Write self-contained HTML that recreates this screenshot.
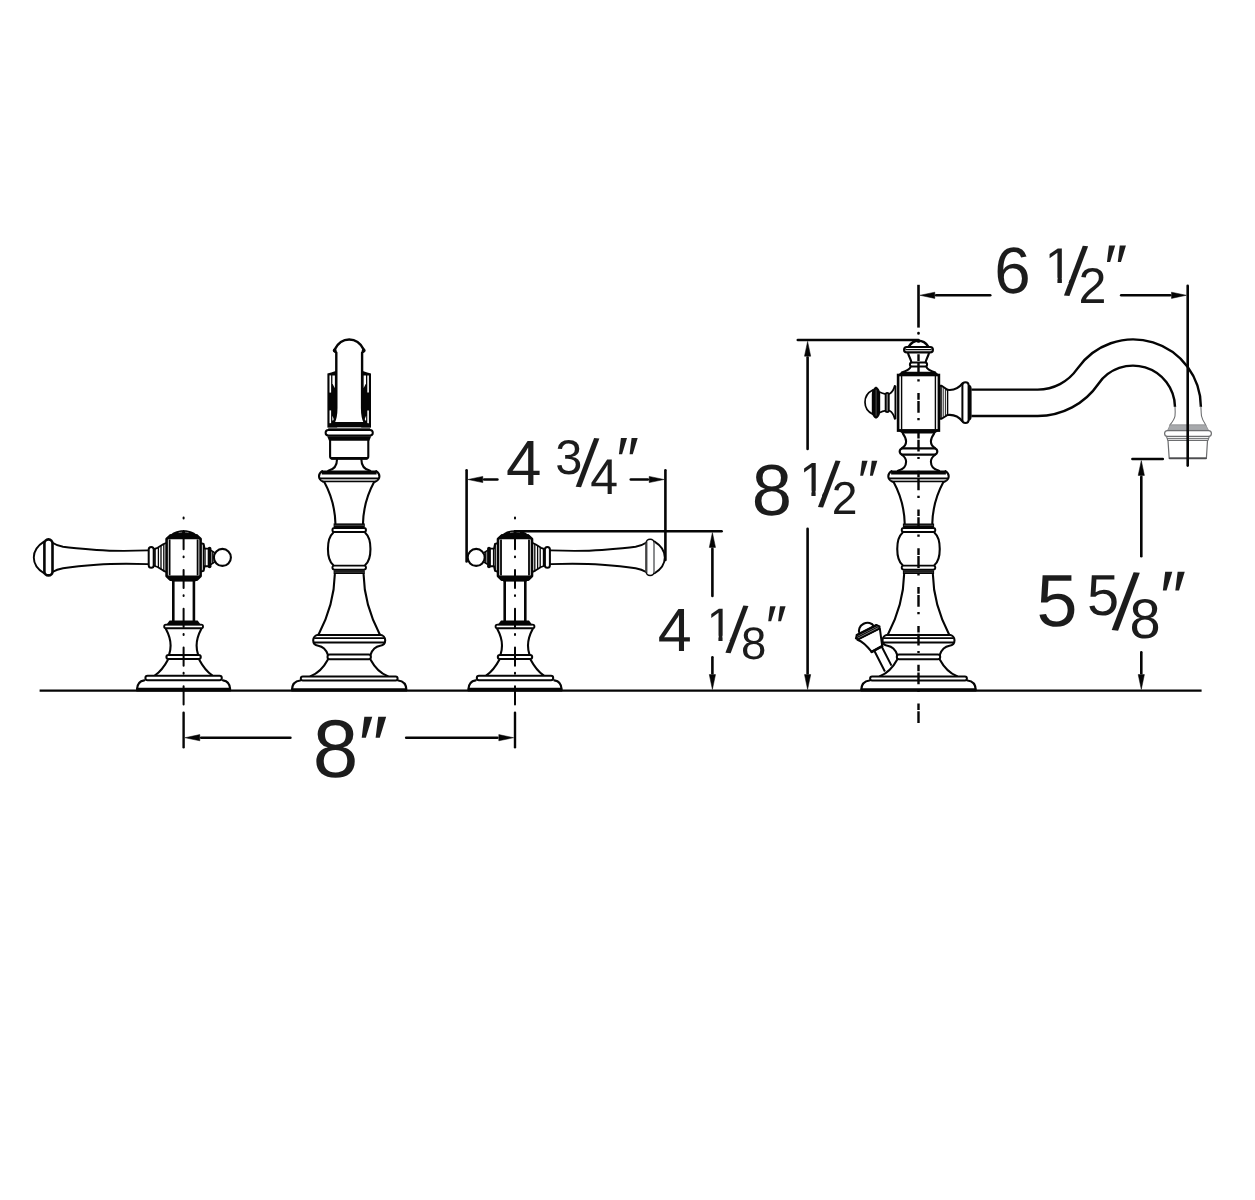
<!DOCTYPE html>
<html lang="en">
<head>
<meta charset="utf-8">
<title>Widespread faucet - dimensions</title>
<style>
html,body{margin:0;padding:0;background:#fff;}
body{width:1255px;height:1200px;overflow:hidden;}
svg{display:block;will-change:transform;}
text{font-family:"Liberation Sans",sans-serif;fill:#1c1c1c;text-rendering:geometricPrecision;}
</style>
</head>
<body>
<svg width="1255" height="1200" viewBox="0 0 1255 1200" role="img" aria-label="Faucet dimension drawing">
<rect width="1255" height="1200" fill="#fff"/>
<!-- ground line -->
<line x1="39.6" y1="690.7" x2="1201.6" y2="690.7" stroke="#050505" stroke-width="2.2" stroke-linecap="butt"/>
<!-- handle -->
<path d="M199.4,660C202.6,666 206.6,671.5 212.2,675.4M167.8,660C164.6,666 160.6,671.5 155,675.4" fill="none" stroke="#050505" stroke-width="2.1" stroke-linecap="round" stroke-linejoin="round"/>
<rect x="145.4" y="675.8" width="76.4" height="4.4" rx="2.2" fill="#fff" stroke="#050505" stroke-width="2"/>
<path d="M223,680.4C227.1,681 230,684 230.2,689.4M144.2,680.4C140.1,681 137.2,684 137,689.4" fill="none" stroke="#050505" stroke-width="2.1" stroke-linecap="round" stroke-linejoin="round"/>
<path d="M136.4,687.8L230.8,687.8L230.8,691.4L136.4,691.4Z" fill="#050505"/>
<rect x="166.4" y="654.9" width="34.4" height="4.1" rx="2.05" fill="#fff" stroke="#050505" stroke-width="2"/>
<path d="M201.4,628.8C198.6,634 196.6,639.5 196.6,645.5C196.6,649 197.2,652 198,654.4M165.8,628.8C168.6,634 170.6,639.5 170.6,645.5C170.6,649 170,652 169.2,654.4" fill="none" stroke="#050505" stroke-width="2.1" stroke-linecap="round" stroke-linejoin="round"/>
<rect x="164.2" y="624.6" width="38.8" height="3.6" rx="1.8" fill="#fff" stroke="#050505" stroke-width="1.9"/>
<path d="M169.6,620.4L197.6,620.4L201.2,625.2L166,625.2Z" fill="#050505"/>
<path d="M193.9,581L193.9,621M173.3,581L173.3,621" fill="none" stroke="#050505" stroke-width="2.6" stroke-linecap="butt" stroke-linejoin="round"/>
<path d="M171.8,579L195.4,579L195.4,581.6L171.8,581.6Z" fill="#050505"/>
<path d="M170.2,535.6L197,535.6L200.6,539L200.6,576L197,579.6L170.2,579.6L166.6,576L166.6,539Z" fill="#fff" stroke="#050505" stroke-width="2.6" stroke-linecap="round" stroke-linejoin="round"/>
<path d="M169.8,534.4L197.4,534.4L200.6,539.2L166.6,539.2Z" fill="#050505"/>
<path d="M166.6,575.4L200.6,575.4L197.4,579.6L169.8,579.6Z" fill="#050505"/>
<path d="M169.2,536.4C171.6,532.6 176.6,530.2 183.6,530.2C190.6,530.2 195.6,532.6 198,536.4Z" fill="#050505"/>
<path d="M178.6,532.6L182.2,532.2M185,532.2L188.6,532.6" fill="none" stroke="#777" stroke-width="0.9" stroke-linecap="butt" stroke-linejoin="round"/>
<line x1="197.6" y1="539.4" x2="197.6" y2="575.4" stroke="#050505" stroke-width="1.8" stroke-linecap="butt"/>
<line x1="169.6" y1="539.4" x2="169.6" y2="575.4" stroke="#050505" stroke-width="1.8" stroke-linecap="butt"/>
<circle cx="222.4" cy="557.4" r="8.5" fill="#fff" stroke="#050505" stroke-width="2.1"/>
<rect x="207.7" y="546.8" width="3.8" height="21.4" rx="1.9" fill="#050505" stroke="none" stroke-width="0"/>
<path d="M208,548.6L204.6,548.6L203.6,544L201.8,543.4M208,566.2L204.6,566.2L203.6,570.8L201.8,571.4" fill="none" stroke="#050505" stroke-width="1.9" stroke-linecap="round" stroke-linejoin="round"/>
<line x1="203.4" y1="544" x2="203.4" y2="570.8" stroke="#050505" stroke-width="1.4" stroke-linecap="butt"/>
<line x1="205" y1="548.4" x2="205" y2="566.4" stroke="#050505" stroke-width="1.4" stroke-linecap="butt"/>
<path d="M211.4,550.6L214.2,552.4M211.4,564.2L214.2,562.4" fill="none" stroke="#050505" stroke-width="1.6" stroke-linecap="round" stroke-linejoin="round"/>
<line x1="212.8" y1="551.6" x2="212.8" y2="563.2" stroke="#050505" stroke-width="1.4" stroke-linecap="butt"/>
<path d="M165.4,543.2L163.2,544.2L157.6,547.8L154.6,548.8M165.4,571.6L163.2,570.6L157.6,567L154.6,566" fill="none" stroke="#050505" stroke-width="1.8" stroke-linecap="round" stroke-linejoin="round"/>
<line x1="163.8" y1="544" x2="163.8" y2="570.8" stroke="#050505" stroke-width="1.3" stroke-linecap="butt"/>
<line x1="161" y1="545.6" x2="161" y2="569.2" stroke="#050505" stroke-width="1.3" stroke-linecap="butt"/>
<line x1="158.4" y1="547.4" x2="158.4" y2="567.4" stroke="#050505" stroke-width="1.3" stroke-linecap="butt"/>
<line x1="155" y1="548.8" x2="155" y2="566" stroke="#050505" stroke-width="1.6" stroke-linecap="butt"/>
<rect x="148.7" y="547" width="5" height="20.8" rx="2.5" fill="#fff" stroke="#050505" stroke-width="2"/>
<path d="M148.2,550.4C133.6,550.9 113.6,551.2 96.6,550C83.6,549 71.6,548 63,546.8C58.6,546 55.6,544.8 53,543M148.2,564.1C133.6,563.6 113.6,563.4 96.6,564.7C83.6,565.7 71.6,567 63,568.2C58.6,569 55.6,570 53,571.8" fill="none" stroke="#050505" stroke-width="1.9" stroke-linecap="round" stroke-linejoin="round"/>
<path d="M44,541.6C37.6,545.6 33.8,551 33.8,557.4C33.8,563.8 37.6,569.2 44,573.2" fill="none" stroke="#050505" stroke-width="1.9" stroke-linecap="round" stroke-linejoin="round"/>
<rect x="44.4" y="539.4" width="8.1" height="36" rx="4" fill="#fff" stroke="#050505" stroke-width="2.6"/>
<!-- handle -->
<path d="M530.8,660C534,666 538,671.5 543.6,675.4M499.2,660C496,666 492,671.5 486.4,675.4" fill="none" stroke="#050505" stroke-width="2.1" stroke-linecap="round" stroke-linejoin="round"/>
<rect x="476.8" y="675.8" width="76.4" height="4.4" rx="2.2" fill="#fff" stroke="#050505" stroke-width="2"/>
<path d="M554.4,680.4C558.5,681 561.4,684 561.6,689.4M475.6,680.4C471.5,681 468.6,684 468.4,689.4" fill="none" stroke="#050505" stroke-width="2.1" stroke-linecap="round" stroke-linejoin="round"/>
<path d="M467.8,687.8L562.2,687.8L562.2,691.4L467.8,691.4Z" fill="#050505"/>
<rect x="497.8" y="654.9" width="34.4" height="4.1" rx="2.05" fill="#fff" stroke="#050505" stroke-width="2"/>
<path d="M532.8,628.8C530,634 528,639.5 528,645.5C528,649 528.6,652 529.4,654.4M497.2,628.8C500,634 502,639.5 502,645.5C502,649 501.4,652 500.6,654.4" fill="none" stroke="#050505" stroke-width="2.1" stroke-linecap="round" stroke-linejoin="round"/>
<rect x="495.6" y="624.6" width="38.8" height="3.6" rx="1.8" fill="#fff" stroke="#050505" stroke-width="1.9"/>
<path d="M501,620.4L529,620.4L532.6,625.2L497.4,625.2Z" fill="#050505"/>
<path d="M525.3,581L525.3,621M504.7,581L504.7,621" fill="none" stroke="#050505" stroke-width="2.6" stroke-linecap="butt" stroke-linejoin="round"/>
<path d="M503.2,579L526.8,579L526.8,581.6L503.2,581.6Z" fill="#050505"/>
<path d="M501.6,535.6L528.4,535.6L532,539L532,576L528.4,579.6L501.6,579.6L498,576L498,539Z" fill="#fff" stroke="#050505" stroke-width="2.6" stroke-linecap="round" stroke-linejoin="round"/>
<path d="M501.2,534.4L528.8,534.4L532,539.2L498,539.2Z" fill="#050505"/>
<path d="M498,575.4L532,575.4L528.8,579.6L501.2,579.6Z" fill="#050505"/>
<path d="M500.6,536.4C503,532.6 508,530.2 515,530.2C522,530.2 527,532.6 529.4,536.4Z" fill="#050505"/>
<path d="M510,532.6L513.6,532.2M516.4,532.2L520,532.6" fill="none" stroke="#777" stroke-width="0.9" stroke-linecap="butt" stroke-linejoin="round"/>
<line x1="529" y1="539.4" x2="529" y2="575.4" stroke="#050505" stroke-width="1.8" stroke-linecap="butt"/>
<line x1="501" y1="539.4" x2="501" y2="575.4" stroke="#050505" stroke-width="1.8" stroke-linecap="butt"/>
<circle cx="476.2" cy="557.4" r="8.5" fill="#fff" stroke="#050505" stroke-width="2.1"/>
<rect x="487.1" y="546.8" width="3.8" height="21.4" rx="1.9" fill="#050505" stroke="none" stroke-width="0"/>
<path d="M490.6,548.6L494,548.6L495,544L496.8,543.4M490.6,566.2L494,566.2L495,570.8L496.8,571.4" fill="none" stroke="#050505" stroke-width="1.9" stroke-linecap="round" stroke-linejoin="round"/>
<line x1="495.2" y1="544" x2="495.2" y2="570.8" stroke="#050505" stroke-width="1.4" stroke-linecap="butt"/>
<line x1="493.6" y1="548.4" x2="493.6" y2="566.4" stroke="#050505" stroke-width="1.4" stroke-linecap="butt"/>
<path d="M487.2,550.6L484.4,552.4M487.2,564.2L484.4,562.4" fill="none" stroke="#050505" stroke-width="1.6" stroke-linecap="round" stroke-linejoin="round"/>
<line x1="485.8" y1="551.6" x2="485.8" y2="563.2" stroke="#050505" stroke-width="1.4" stroke-linecap="butt"/>
<path d="M533.2,543.2L535.4,544.2L541,547.8L544,548.8M533.2,571.6L535.4,570.6L541,567L544,566" fill="none" stroke="#050505" stroke-width="1.8" stroke-linecap="round" stroke-linejoin="round"/>
<line x1="534.8" y1="544" x2="534.8" y2="570.8" stroke="#050505" stroke-width="1.3" stroke-linecap="butt"/>
<line x1="537.6" y1="545.6" x2="537.6" y2="569.2" stroke="#050505" stroke-width="1.3" stroke-linecap="butt"/>
<line x1="540.2" y1="547.4" x2="540.2" y2="567.4" stroke="#050505" stroke-width="1.3" stroke-linecap="butt"/>
<line x1="543.6" y1="548.8" x2="543.6" y2="566" stroke="#050505" stroke-width="1.6" stroke-linecap="butt"/>
<rect x="544.9" y="547" width="5" height="20.8" rx="2.5" fill="#fff" stroke="#050505" stroke-width="2"/>
<path d="M550.4,550.4C565,550.9 585,551.2 602,550C615,549 627,548 635.6,546.8C640,546 643,544.8 645.6,543M550.4,564.1C565,563.6 585,563.4 602,564.7C615,565.7 627,567 635.6,568.2C640,569 643,570 645.6,571.8" fill="none" stroke="#050505" stroke-width="1.9" stroke-linecap="round" stroke-linejoin="round"/>
<path d="M654.6,541.6C661,545.6 664.8,551 664.8,557.4C664.8,563.8 661,569.2 654.6,573.2" fill="none" stroke="#050505" stroke-width="1.9" stroke-linecap="round" stroke-linejoin="round"/>
<rect x="646.1" y="539.2" width="8.1" height="36.4" rx="4" fill="#fff" stroke="#050505" stroke-width="1.5"/>
<line x1="646" y1="542.4" x2="646" y2="572.4" stroke="#555" stroke-width="0.9" stroke-linecap="butt"/>
<line x1="647.4" y1="541.4" x2="647.4" y2="573.4" stroke="#8a8c8e" stroke-width="0.8" stroke-linecap="butt"/>
<line x1="654" y1="542.4" x2="654" y2="572.4" stroke="#8a8c8e" stroke-width="2" stroke-linecap="butt"/>
<!-- pedestal -->
<path d="M321.8,470.6L376.6,470.6L376.6,474.6L321.8,474.6Z" fill="#050505"/>
<path d="M376.2,471.2C378.4,472.6 379.4,474.6 379.4,476.2C379.4,478 378.2,480.2 375.4,481.6M322.2,471.2C320,472.6 319,474.6 319,476.2C319,478 320.2,480.2 323,481.6" fill="none" stroke="#050505" stroke-width="2.1" stroke-linecap="round" stroke-linejoin="round"/>
<path d="M320.4,478.2H378" fill="none" stroke="#050505" stroke-width="1.5" stroke-linecap="round" stroke-linejoin="round"/>
<path d="M321.6,479.8H376.8" fill="none" stroke="#777" stroke-width="0.9" stroke-linecap="round" stroke-linejoin="round"/>
<path d="M323.2,481.5H375.2" fill="none" stroke="#050505" stroke-width="1.7" stroke-linecap="round" stroke-linejoin="round"/>
<path d="M374.1,482C369.2,491 363.5,504 363,523.4M324.3,482C329.2,491 334.9,504 335.4,523.4" fill="none" stroke="#050505" stroke-width="2.1" stroke-linecap="round" stroke-linejoin="round"/>
<path d="M333.6,523.4L364.8,523.4L364.8,527.2L333.6,527.2Z" fill="#050505"/>
<path d="M334.8,525.3H363.6" fill="none" stroke="#8a8a8a" stroke-width="0.5" stroke-linecap="round" stroke-linejoin="round"/>
<rect x="332.4" y="528" width="33.6" height="4" rx="2" fill="#fff" stroke="#050505" stroke-width="1.9"/>
<path d="M365.2,532.8C372.2,539 372.2,559 365.2,565M333.2,532.8C326.2,539 326.2,559 333.2,565" fill="none" stroke="#050505" stroke-width="2.1" stroke-linecap="round" stroke-linejoin="round"/>
<rect x="332.4" y="565.6" width="33.6" height="4" rx="2" fill="#fff" stroke="#050505" stroke-width="1.9"/>
<path d="M333.6,570.2L364.8,570.2L364.8,574L333.6,574Z" fill="#050505"/>
<path d="M334.8,572.1H363.6" fill="none" stroke="#8a8a8a" stroke-width="0.5" stroke-linecap="round" stroke-linejoin="round"/>
<path d="M363.6,574.4C364,596 369.2,614 379.8,634.4M334.8,574.4C334.4,596 329.2,614 318.6,634.4" fill="none" stroke="#050505" stroke-width="2.1" stroke-linecap="round" stroke-linejoin="round"/>
<path d="M318.2,634.9H380.2" fill="none" stroke="#050505" stroke-width="2" stroke-linecap="round" stroke-linejoin="round"/>
<path d="M314.6,638.1H383.8" fill="none" stroke="#050505" stroke-width="1.6" stroke-linecap="round" stroke-linejoin="round"/>
<path d="M314.6,642.5H383.8" fill="none" stroke="#050505" stroke-width="1.9" stroke-linecap="round" stroke-linejoin="round"/>
<path d="M380.2,634.8C383.2,635.2 385.2,637.6 385.2,640.2C385.2,643 383.2,645.2 380.2,645.7C375.2,646.6 372.2,650 370.7,654.4M318.2,634.8C315.2,635.2 313.2,637.6 313.2,640.2C313.2,643 315.2,645.2 318.2,645.7C323.2,646.6 326.2,650 327.7,654.4" fill="none" stroke="#050505" stroke-width="2.1" stroke-linecap="round" stroke-linejoin="round"/>
<rect x="327.5" y="654.6" width="43.4" height="4.6" rx="2.3" fill="#fff" stroke="#050505" stroke-width="2"/>
<path d="M370.6,659.8C374.2,666.5 379.7,673 387.8,676.3M327.8,659.8C324.2,666.5 318.7,673 310.6,676.3" fill="none" stroke="#050505" stroke-width="2.1" stroke-linecap="round" stroke-linejoin="round"/>
<rect x="300.8" y="676.5" width="96.8" height="4.1" rx="2" fill="#fff" stroke="#050505" stroke-width="2"/>
<path d="M398.2,680.5C402.7,681 406.2,684 406.4,689.6M300.2,680.5C295.7,681 292.2,684 292,689.6" fill="none" stroke="#050505" stroke-width="2.1" stroke-linecap="round" stroke-linejoin="round"/>
<path d="M291.4,688.2L407,688.2L407,691.5L291.4,691.5Z" fill="#050505"/>
<!-- spout, front view -->
<path d="M361.4,459.6C361.4,466 364.2,469.6 370.2,470.8M337,459.6C337,466 334.2,469.6 328.2,470.8" fill="none" stroke="#050505" stroke-width="2.1" stroke-linecap="round" stroke-linejoin="round"/>
<path d="M330.1,440.4V456.4Q330.1,458.4 332.1,458.4H366.3Q368.3,458.4 368.3,456.4V440.4" fill="none" stroke="#050505" stroke-width="2.1" stroke-linecap="round" stroke-linejoin="round"/>
<path d="M331.8,458.4H366.6" fill="none" stroke="#050505" stroke-width="2.6" stroke-linecap="round" stroke-linejoin="round"/>
<path d="M327.2,436.2L371.2,436.2L369.4,440.8L329,440.8Z" fill="#050505"/>
<rect x="325.6" y="430" width="47.2" height="5.6" rx="2.8" fill="#fff" stroke="#050505" stroke-width="2"/>
<path d="M361.2,370.4L367.2,372.6L371,373.4L371,427.4L361.2,427.4Z" fill="#050505"/>
<path d="M367.3,375.4L368.9,375.4L368.9,392.6L367.3,392.6Z" fill="#fff"/>
<path d="M367.3,410.4L368.9,410.4L368.9,423.2L367.3,423.2Z" fill="#fff"/>
<path d="M363.5,375.6L366,375.6L366,383.6L363.5,388.2Z" fill="#fff"/>
<path d="M364,420.6L366.1,415.8L366.1,420.6Z" fill="#fff"/>
<path d="M337.2,370.4L331.2,372.6L327.4,373.4L327.4,427.4L337.2,427.4Z" fill="#050505"/>
<path d="M331.1,375.4L329.5,375.4L329.5,392.6L331.1,392.6Z" fill="#fff"/>
<path d="M331.1,410.4L329.5,410.4L329.5,423.2L331.1,423.2Z" fill="#fff"/>
<path d="M334.9,375.6L332.4,375.6L332.4,383.6L334.9,388.2Z" fill="#fff"/>
<path d="M334.4,420.6L332.3,415.8L332.3,420.6Z" fill="#fff"/>
<path d="M333.4,423.2C336,418 336.3,413 336.3,408L336.3,352.4L334.8,351.4L334.8,349.4C337.7,343.5 342.7,339.5 349.2,339.5C355.7,339.5 360.7,343.5 363.6,349.4L363.6,351.4L362.1,352.4L362.1,408C362.1,413 362.4,418 365,423.2Z" fill="#fff" stroke="#050505" stroke-width="2.4" stroke-linecap="round" stroke-linejoin="round"/>
<circle cx="363.7" cy="350.4" r="1.9" fill="#050505"/>
<circle cx="334.7" cy="350.4" r="1.9" fill="#050505"/>
<path d="M331.2,423L367.2,423L370.8,427.2L327.6,427.2Z" fill="#050505"/>
<path d="M328.6,428.4H369.8" fill="none" stroke="#444" stroke-width="1" stroke-linecap="round" stroke-linejoin="round"/>
<!-- drain lift knob -->
<g transform="translate(868.6,634) rotate(-27)">
<path d="M-2.5,17.5V40.8M6,17V38.6" fill="none" stroke="#050505" stroke-width="2" stroke-linecap="butt" stroke-linejoin="round"/>
<path d="M-12.6,0C-9.6,3 -6.8,10 -5.4,17.4L6.6,17L12.6,0Z" fill="#fff" stroke="#050505" stroke-width="2" stroke-linecap="round" stroke-linejoin="round"/>
<path d="M-5.4,17.4L6.6,17" fill="none" stroke="#050505" stroke-width="2.6" stroke-linecap="round" stroke-linejoin="round"/>
<path d="M-7.8,-4.6A8,6.8 0 0 1 8.2,-4.6" fill="#fff" stroke="#050505" stroke-width="2.1" stroke-linecap="round" stroke-linejoin="round"/>
<path d="M-11.6,0H11.6L13.4,-1.9L11.2,-4.3H-11.2L-13.4,-1.9Z" fill="#858585" stroke="#050505" stroke-width="1.8" stroke-linecap="round" stroke-linejoin="round"/>
<path d="M-12,-2.15H12" fill="none" stroke="#050505" stroke-width="1" stroke-linecap="round" stroke-linejoin="round"/>
<path d="M-11,-4.4H11" fill="none" stroke="#050505" stroke-width="2.2" stroke-linecap="round" stroke-linejoin="round"/>
</g>
<!-- pedestal -->
<path d="M891.1,470.6L945.9,470.6L945.9,474.6L891.1,474.6Z" fill="#050505"/>
<path d="M945.5,471.2C947.7,472.6 948.7,474.6 948.7,476.2C948.7,478 947.5,480.2 944.7,481.6M891.5,471.2C889.3,472.6 888.3,474.6 888.3,476.2C888.3,478 889.5,480.2 892.3,481.6" fill="none" stroke="#050505" stroke-width="2.1" stroke-linecap="round" stroke-linejoin="round"/>
<path d="M889.7,478.2H947.3" fill="none" stroke="#050505" stroke-width="1.5" stroke-linecap="round" stroke-linejoin="round"/>
<path d="M890.9,479.8H946.1" fill="none" stroke="#777" stroke-width="0.9" stroke-linecap="round" stroke-linejoin="round"/>
<path d="M892.5,481.5H944.5" fill="none" stroke="#050505" stroke-width="1.7" stroke-linecap="round" stroke-linejoin="round"/>
<path d="M943.4,482C938.5,491 932.8,504 932.3,523.4M893.6,482C898.5,491 904.2,504 904.7,523.4" fill="none" stroke="#050505" stroke-width="2.1" stroke-linecap="round" stroke-linejoin="round"/>
<path d="M902.9,523.4L934.1,523.4L934.1,527.2L902.9,527.2Z" fill="#050505"/>
<path d="M904.1,525.3H932.9" fill="none" stroke="#8a8a8a" stroke-width="0.5" stroke-linecap="round" stroke-linejoin="round"/>
<rect x="901.7" y="528" width="33.6" height="4" rx="2" fill="#fff" stroke="#050505" stroke-width="1.9"/>
<path d="M934.5,532.8C941.5,539 941.5,559 934.5,565M902.5,532.8C895.5,539 895.5,559 902.5,565" fill="none" stroke="#050505" stroke-width="2.1" stroke-linecap="round" stroke-linejoin="round"/>
<rect x="901.7" y="565.6" width="33.6" height="4" rx="2" fill="#fff" stroke="#050505" stroke-width="1.9"/>
<path d="M902.9,570.2L934.1,570.2L934.1,574L902.9,574Z" fill="#050505"/>
<path d="M904.1,572.1H932.9" fill="none" stroke="#8a8a8a" stroke-width="0.5" stroke-linecap="round" stroke-linejoin="round"/>
<path d="M932.9,574.4C933.3,596 938.5,614 949.1,634.4M904.1,574.4C903.7,596 898.5,614 887.9,634.4" fill="none" stroke="#050505" stroke-width="2.1" stroke-linecap="round" stroke-linejoin="round"/>
<path d="M887.5,634.9H949.5" fill="none" stroke="#050505" stroke-width="2" stroke-linecap="round" stroke-linejoin="round"/>
<path d="M883.9,638.1H953.1" fill="none" stroke="#050505" stroke-width="1.6" stroke-linecap="round" stroke-linejoin="round"/>
<path d="M883.9,642.5H953.1" fill="none" stroke="#050505" stroke-width="1.9" stroke-linecap="round" stroke-linejoin="round"/>
<path d="M949.5,634.8C952.5,635.2 954.5,637.6 954.5,640.2C954.5,643 952.5,645.2 949.5,645.7C944.5,646.6 941.5,650 940,654.4M887.5,634.8C884.5,635.2 882.5,637.6 882.5,640.2C882.5,643 884.5,645.2 887.5,645.7C892.5,646.6 895.5,650 897,654.4" fill="none" stroke="#050505" stroke-width="2.1" stroke-linecap="round" stroke-linejoin="round"/>
<rect x="896.8" y="654.6" width="43.4" height="4.6" rx="2.3" fill="#fff" stroke="#050505" stroke-width="2"/>
<path d="M939.9,659.8C943.5,666.5 949,673 957.1,676.3M897.1,659.8C893.5,666.5 888,673 879.9,676.3" fill="none" stroke="#050505" stroke-width="2.1" stroke-linecap="round" stroke-linejoin="round"/>
<rect x="870.1" y="676.5" width="96.8" height="4.1" rx="2" fill="#fff" stroke="#050505" stroke-width="2"/>
<path d="M967.5,680.5C972,681 975.5,684 975.7,689.6M869.5,680.5C865,681 861.5,684 861.3,689.6" fill="none" stroke="#050505" stroke-width="2.1" stroke-linecap="round" stroke-linejoin="round"/>
<path d="M860.7,688.2L976.3,688.2L976.3,691.5L860.7,691.5Z" fill="#050505"/>
<!-- spout, side view -->
<path d="M934.1,433.6C932.1,436.4 930.9,438.6 930.9,441.2C930.9,444.4 932.5,446.6 935.1,448.2M902.9,433.6C904.9,436.4 906.1,438.6 906.1,441.2C906.1,444.4 904.5,446.6 901.9,448.2" fill="none" stroke="#050505" stroke-width="2.1" stroke-linecap="round" stroke-linejoin="round"/>
<rect x="899.7" y="448.4" width="37.6" height="6.2" rx="3.1" fill="#fff" stroke="#050505" stroke-width="2.2"/>
<path d="M934.9,455C932.1,457 930.9,459.2 930.9,461.8C930.9,466 933.9,469.6 939.1,470.8M902.1,455C904.9,457 906.1,459.2 906.1,461.8C906.1,466 903.1,469.6 897.9,470.8" fill="none" stroke="#050505" stroke-width="2.1" stroke-linecap="round" stroke-linejoin="round"/>
<rect x="898.1" y="375" width="40.8" height="55.6" rx="0" fill="#fff" stroke="#050505" stroke-width="2.6"/>
<line x1="901.6" y1="376" x2="901.6" y2="429.6" stroke="#050505" stroke-width="1.4" stroke-linecap="butt"/>
<line x1="935.4" y1="376" x2="935.4" y2="429.6" stroke="#050505" stroke-width="1.4" stroke-linecap="butt"/>
<path d="M901.5,371.8L935.5,371.8L940.1,375.8L896.9,375.8Z" fill="#050505"/>
<path d="M896.9,429.2L940.1,429.2L934.9,433.6L902.1,433.6Z" fill="#050505"/>
<path d="M926.3,366.8C927.1,369.4 930.5,371 935.1,372.4M910.7,366.8C909.9,369.4 906.5,371 901.9,372.4" fill="none" stroke="#050505" stroke-width="2.1" stroke-linecap="round" stroke-linejoin="round"/>
<rect x="909.9" y="362.4" width="17.2" height="4" rx="2" fill="#fff" stroke="#050505" stroke-width="2"/>
<path d="M928.9,353.4C927.9,357 925.9,359.6 925.7,362.2M908.1,353.4C909.1,357 911.1,359.6 911.3,362.2" fill="none" stroke="#050505" stroke-width="2.1" stroke-linecap="round" stroke-linejoin="round"/>
<rect x="904.1" y="347" width="28.8" height="5.4" rx="2.7" fill="#fff" stroke="#050505" stroke-width="2.2"/>
<path d="M905.9,349.6H931.1" fill="none" stroke="#050505" stroke-width="1.3" stroke-linecap="round" stroke-linejoin="round"/>
<path d="M908.7,346.6C911.5,342.4 914.5,340.8 918.5,340.8C922.5,340.8 925.5,342.4 928.3,346.6" fill="none" stroke="#050505" stroke-width="2.4" stroke-linecap="round" stroke-linejoin="round"/>
<path d="M872.8,390C867.6,392.6 865,397.4 865,402.2C865,407 867.6,411.6 872.8,414.2" fill="none" stroke="#050505" stroke-width="1.7" stroke-linecap="round" stroke-linejoin="round"/>
<path d="M876,386.6C878.6,388 880.2,390.4 880.2,394V411.4C880.2,415 878.6,417.4 876,418.8C873.4,417.4 871.8,415 871.8,411.4V394C871.8,390.4 873.4,388 876,386.6Z" fill="#050505"/>
<line x1="876.1" y1="389.6" x2="876.1" y2="415.8" stroke="#5a5a5a" stroke-width="0.9" stroke-linecap="butt"/>
<path d="M880,392.2C881.6,393 883.2,393.6 884.8,393.8M880,412.4C881.6,411.6 883.2,411 884.8,410.8" fill="none" stroke="#050505" stroke-width="1.7" stroke-linecap="round" stroke-linejoin="round"/>
<rect x="885.6" y="392.9" width="3.2" height="19.2" rx="1.6" fill="#7d7d7d" stroke="#050505" stroke-width="1.8"/>
<path d="M889.6,393.8C892,392.6 893.8,389.6 894.8,385.8M889.6,410.8C892,412 893.8,415 894.8,418.8" fill="none" stroke="#050505" stroke-width="1.8" stroke-linecap="round" stroke-linejoin="round"/>
<line x1="895.3" y1="385.6" x2="895.3" y2="419.2" stroke="#050505" stroke-width="1.6" stroke-linecap="butt"/>
<line x1="896.6" y1="386" x2="896.6" y2="419" stroke="#8a8a8a" stroke-width="1" stroke-linecap="butt"/>
<path d="M940.2,385.8H941.6L947.2,389.6M940.2,418.8H941.6L947.2,415.2" fill="none" stroke="#050505" stroke-width="1.9" stroke-linecap="round" stroke-linejoin="round"/>
<line x1="941" y1="385.8" x2="941" y2="418.8" stroke="#050505" stroke-width="1.6" stroke-linecap="butt"/>
<line x1="943.2" y1="387" x2="943.2" y2="417.6" stroke="#050505" stroke-width="0.9" stroke-linecap="butt"/>
<line x1="945.4" y1="388.4" x2="945.4" y2="416.2" stroke="#050505" stroke-width="0.9" stroke-linecap="butt"/>
<line x1="947.6" y1="389.6" x2="947.6" y2="415.2" stroke="#050505" stroke-width="1.4" stroke-linecap="butt"/>
<path d="M947.4,389.8C954,390.6 959,388 962.4,383.4M947.4,415C954,414.2 959,416.8 962.4,421.4" fill="none" stroke="#050505" stroke-width="2.1" stroke-linecap="round" stroke-linejoin="round"/>
<rect x="962.4" y="382.2" width="6.2" height="40.8" rx="3.1" fill="#fff" stroke="#050505" stroke-width="2"/>
<path d="M968.4,384.4C970.8,384.8 971.6,386.2 971.6,388.6V416.4C971.6,418.8 970.8,420.4 968.4,420.8Z" fill="#050505"/>
<!-- spout tube -->
<path d="M971.4,389.6H1037.7A48.1,48.1 0 0 0 1077.2,368.9A67.8,67.8 0 0 1 1200.9,406.9" fill="none" stroke="#050505" stroke-width="2.4" stroke-linecap="butt" stroke-linejoin="round"/>
<path d="M971.4,416H1037.7A74,74 0 0 0 1098.5,383.7A42,42 0 0 1 1175.0,406.9" fill="none" stroke="#050505" stroke-width="2.4" stroke-linecap="butt" stroke-linejoin="round"/>
<path d="M1175,406.6C1175.2,410 1175.4,413 1175.0,416C1174.4,419.5 1172,422.5 1169.8,425.2" fill="none" stroke="#6d6e70" stroke-width="1.1" stroke-linecap="round" stroke-linejoin="round"/>
<path d="M1200.9,406.6C1201.1,410 1201.1,413 1201.5,416C1202.2,419.5 1204,422.5 1205.9,425.2" fill="none" stroke="#6d6e70" stroke-width="1.1" stroke-linecap="round" stroke-linejoin="round"/>
<path d="M1170.2,424.8H1205.6L1208.6,430.4H1167.6Z" fill="#a7a9ac" stroke="#8a8c8e" stroke-width="0.8"/>
<rect x="1164.6" y="430.6" width="46.8" height="5.8" rx="2.9" fill="#fff" stroke="#6d6e70" stroke-width="1.2"/>
<path d="M1166.6,436.8L1167.8,440.4H1208L1209.2,436.8" fill="none" stroke="#6d6e70" stroke-width="1.1" stroke-linecap="round" stroke-linejoin="round"/>
<path d="M1167.4,438.4H1208.4" fill="none" stroke="#6d6e70" stroke-width="1" stroke-linecap="round" stroke-linejoin="round"/>
<path d="M1168,440.6L1169.2,458.2H1206.4L1207.5,440.6" fill="none" stroke="#6d6e70" stroke-width="1.2" stroke-linecap="round" stroke-linejoin="round"/>
<path d="M1169.6,458.4H1206" fill="none" stroke="#4d4d4f" stroke-width="1.6" stroke-linecap="round" stroke-linejoin="round"/>
<!-- centre lines -->
<line x1="183.6" y1="517.6" x2="183.6" y2="706" stroke="#050505" stroke-width="2" stroke-linecap="round" stroke-dasharray="0.9 12.6 18.2 7.1"/>
<line x1="183.6" y1="712.8" x2="183.6" y2="747.2" stroke="#050505" stroke-width="2.4" stroke-linecap="round"/>
<line x1="515" y1="517.6" x2="515" y2="706" stroke="#050505" stroke-width="2" stroke-linecap="round" stroke-dasharray="0.9 12.6 18.2 7.1"/>
<line x1="515" y1="712.8" x2="515" y2="747.2" stroke="#050505" stroke-width="2.4" stroke-linecap="round"/>
<line x1="918.5" y1="284.8" x2="918.5" y2="327.6" stroke="#050505" stroke-width="2.6" stroke-linecap="butt"/>
<line x1="918.5" y1="333.1" x2="918.5" y2="333.5" stroke="#050505" stroke-width="2.6" stroke-linecap="round"/>
<line x1="918.5" y1="340.5" x2="918.5" y2="723" stroke="#050505" stroke-width="2.4" stroke-linecap="butt" stroke-dasharray="2.2 11.6 6.6 1.2 11.8 5.4"/>
<!-- dimensions -->
<polygon points="185,737.7 199.8,734.6 199.8,740.8" fill="#050505" stroke="#050505" stroke-width="0.5" stroke-linejoin="round"/>
<line x1="201.2" y1="737.7" x2="290.4" y2="737.7" stroke="#050505" stroke-width="2.6" stroke-linecap="round"/>
<polygon points="513.6,737.7 498.8,734.6 498.8,740.8" fill="#050505" stroke="#050505" stroke-width="0.5" stroke-linejoin="round"/>
<line x1="497.4" y1="737.7" x2="406.2" y2="737.7" stroke="#050505" stroke-width="2.6" stroke-linecap="round"/>
<line x1="466.6" y1="470.2" x2="466.6" y2="561.4" stroke="#050505" stroke-width="2.6" stroke-linecap="round"/>
<line x1="665.4" y1="470.2" x2="665.4" y2="560" stroke="#050505" stroke-width="2.6" stroke-linecap="round"/>
<polygon points="468,479.5 482.8,476.4 482.8,482.6" fill="#050505" stroke="#050505" stroke-width="0.5" stroke-linejoin="round"/>
<line x1="484.2" y1="479.5" x2="497.4" y2="479.5" stroke="#050505" stroke-width="2.6" stroke-linecap="round"/>
<polygon points="664,479.5 649.2,476.4 649.2,482.6" fill="#050505" stroke="#050505" stroke-width="0.5" stroke-linejoin="round"/>
<line x1="647.8" y1="479.5" x2="630.8" y2="479.5" stroke="#050505" stroke-width="2.6" stroke-linecap="round"/>
<line x1="515" y1="531.2" x2="721.6" y2="531.2" stroke="#050505" stroke-width="2.6" stroke-linecap="round"/>
<polygon points="712.4,532.6 709.3,547.4 715.5,547.4" fill="#050505" stroke="#050505" stroke-width="0.5" stroke-linejoin="round"/>
<line x1="712.4" y1="548.8" x2="712.4" y2="596" stroke="#050505" stroke-width="2.6" stroke-linecap="round"/>
<polygon points="712.4,689.4 709.3,674.6 715.5,674.6" fill="#050505" stroke="#050505" stroke-width="0.5" stroke-linejoin="round"/>
<line x1="712.4" y1="673.2" x2="712.4" y2="657.2" stroke="#050505" stroke-width="2.6" stroke-linecap="round"/>
<line x1="797.8" y1="340" x2="918.5" y2="340" stroke="#050505" stroke-width="2.6" stroke-linecap="round"/>
<polygon points="807.6,341.4 804.5,356.2 810.7,356.2" fill="#050505" stroke="#050505" stroke-width="0.5" stroke-linejoin="round"/>
<line x1="807.6" y1="357.6" x2="807.6" y2="449" stroke="#050505" stroke-width="2.6" stroke-linecap="round"/>
<polygon points="807.6,689.4 804.5,674.6 810.7,674.6" fill="#050505" stroke="#050505" stroke-width="0.5" stroke-linejoin="round"/>
<line x1="807.6" y1="673.2" x2="807.6" y2="528.8" stroke="#050505" stroke-width="2.6" stroke-linecap="round"/>
<line x1="1187.7" y1="285.8" x2="1187.7" y2="465.6" stroke="#050505" stroke-width="2.6" stroke-linecap="round"/>
<polygon points="920,295.3 934.8,292.2 934.8,298.4" fill="#050505" stroke="#050505" stroke-width="0.5" stroke-linejoin="round"/>
<line x1="936.2" y1="295.3" x2="990.2" y2="295.3" stroke="#050505" stroke-width="2.6" stroke-linecap="round"/>
<polygon points="1186.3,295.3 1171.5,292.2 1171.5,298.4" fill="#050505" stroke="#050505" stroke-width="0.5" stroke-linejoin="round"/>
<line x1="1170.1" y1="295.3" x2="1121.2" y2="295.3" stroke="#050505" stroke-width="2.6" stroke-linecap="round"/>
<line x1="1132.4" y1="459" x2="1162.8" y2="459" stroke="#050505" stroke-width="2.6" stroke-linecap="round"/>
<polygon points="1141.3,460.6 1138.2,475.4 1144.4,475.4" fill="#050505" stroke="#050505" stroke-width="0.5" stroke-linejoin="round"/>
<line x1="1141.3" y1="476.8" x2="1141.3" y2="556.2" stroke="#050505" stroke-width="2.6" stroke-linecap="round"/>
<polygon points="1141.3,689.4 1138.2,674.6 1144.4,674.6" fill="#050505" stroke="#050505" stroke-width="0.5" stroke-linejoin="round"/>
<line x1="1141.3" y1="673.2" x2="1141.3" y2="652.2" stroke="#050505" stroke-width="2.6" stroke-linecap="round"/>
<!-- labels -->
<text class="lbl"><tspan x="312.82" y="776.8" font-size="81.92">8</tspan><tspan x="358.26" y="773.88" font-size="83.26">″</tspan></text>
<text class="lbl"><tspan x="505.91" y="484.6" font-size="63.81">4</tspan> <tspan x="555.29" y="474.02" font-size="48.73">3</tspan><tspan x="575.72" y="486.12" font-size="68.26" rotate="5.5">/</tspan><tspan x="590.2" y="493.6" font-size="50">4</tspan><tspan x="616.3" y="482.18" font-size="63.93">″</tspan></text>
<clipPath id="k1"><path clip-rule="evenodd" d="M0,0H1255V1200H0ZM709.21,635.8H718.42V642.2H709.21ZM722.55,635.8L731.39,635.8L729.13,642.2L722.55,642.2Z"/></clipPath>
<text class="lbl" clip-path="url(#k1)"><tspan x="657.67" y="650.5" font-size="61.05">4</tspan> <tspan x="706.65" y="640.7" font-size="46.8">1</tspan><tspan x="725.46" y="652.05" font-size="66.31" rotate="5.5">/</tspan><tspan x="740.91" y="659.05" font-size="45.62">8</tspan><tspan x="765.69" y="646.92" font-size="59.19">″</tspan></text>
<clipPath id="k2"><path clip-rule="evenodd" d="M0,0H1255V1200H0ZM802.02,490.73H811.4V497.2H802.02ZM815.62,490.73L823.91,490.73L821.45,497.2L815.62,497.2Z"/></clipPath>
<text class="lbl" clip-path="url(#k2)"><tspan x="751.64" y="514.89" font-size="72.32">8</tspan> <tspan x="799.38" y="495.7" font-size="47.82">1</tspan><tspan x="818.08" y="506.27" font-size="65.06" rotate="5.5">/</tspan><tspan x="831.74" y="514.1" font-size="46.26">2</tspan><tspan x="857.79" y="500.78" font-size="58.4">″</tspan></text>
<clipPath id="k3"><path clip-rule="evenodd" d="M0,0H1255V1200H0ZM1047.62,277.64H1057.43V284.3H1047.62ZM1061.88,277.64L1070.51,277.64L1067.98,284.3L1061.88,284.3Z"/></clipPath>
<text class="lbl" clip-path="url(#k3)"><tspan x="994.15" y="292.96" font-size="65.54">6</tspan> <tspan x="1044.79" y="282.8" font-size="50.29">1</tspan><tspan x="1064.06" y="294.79" font-size="69.79" rotate="5.5">/</tspan><tspan x="1078.52" y="302.5" font-size="50.27">2</tspan><tspan x="1104.3" y="289.72" font-size="64.72">″</tspan></text>
<text class="lbl"><tspan x="1036.44" y="626.08" font-size="73.66">5</tspan> <tspan x="1087.1" y="614.54" font-size="57.76">5</tspan><tspan x="1111.82" y="629.29" font-size="81.32" rotate="5.5">/</tspan><tspan x="1129.4" y="638.35" font-size="55.93">8</tspan><tspan x="1159.84" y="623.01" font-size="74.58">″</tspan></text>
</svg>
</body>
</html>
